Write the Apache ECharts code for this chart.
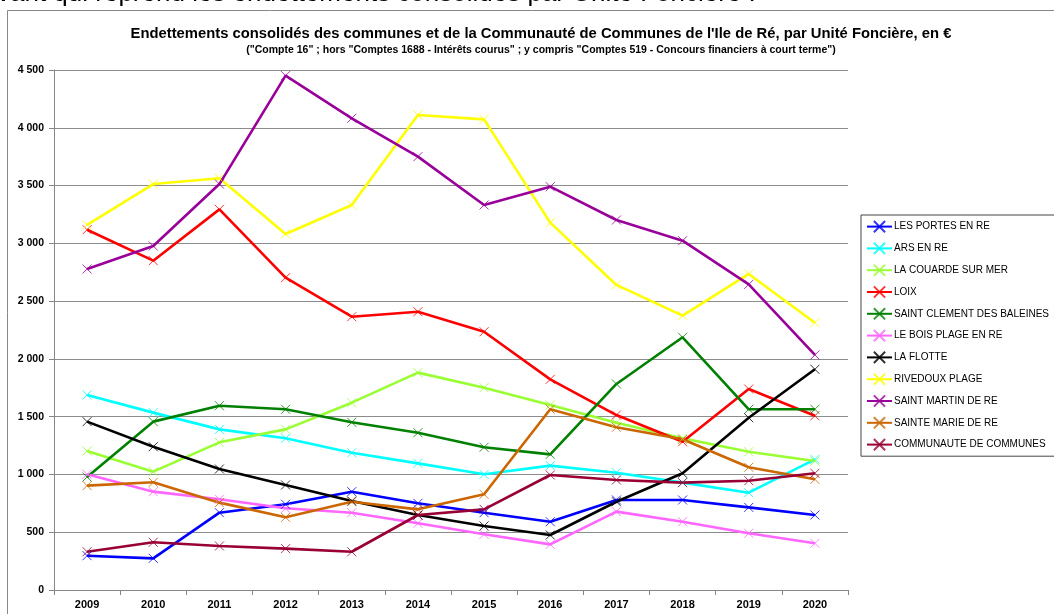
<!DOCTYPE html>
<html>
<head>
<meta charset="utf-8">
<script src="https://cdn.jsdelivr.net/npm/echarts@6/dist/echarts.min.js"></script>
<style>
html,body{margin:0;padding:0;background:#fff;}
#chart{width:1054px;height:614px;}
</style>
</head>
<body>
<div id="chart"></div>
<script>
var years = ['2009','2010','2011','2012','2013','2014','2015','2016','2017','2018','2019','2020'];
var yTicks = [0, 500, 1000, 1500, 2000, 2500, 3000, 3500, 4000, 4500];

var lesPortesEnRe      = [297, 274, 669, 742, 851, 750, 669, 591, 779, 779, 715, 649];
var arsEnRe            = [1688, 1535, 1390, 1313, 1188, 1096, 1001, 1076, 1015, 929, 842, 1131];
var laCouardeSurMer    = [1203, 1024, 1278, 1390, 1621, 1881, 1751, 1601, 1448, 1313, 1197, 1116];
var loix               = [3118, 2850, 3294, 2703, 2365, 2408, 2235, 1823, 1514, 1283, 1739, 1508];
var saintClement       = [978, 1457, 1595, 1564, 1451, 1361, 1235, 1174, 1783, 2187, 1564, 1564];
var leBoisPlageEnRe    = [1001, 851, 785, 707, 669, 577, 482, 395, 678, 591, 491, 404];
var laFlotte           = [1457, 1240, 1047, 909, 770, 649, 554, 476, 764, 1010, 1490, 1910];
var rivedouxPlage      = [3159, 3513, 3563, 3081, 3332, 4111, 4073, 3179, 2640, 2374, 2735, 2313];
var saintMartinDeRe    = [2778, 2977, 3513, 4451, 4082, 3750, 3332, 3490, 3202, 3023, 2645, 2034];
var sainteMarieDeRe    = [903, 932, 756, 629, 764, 698, 828, 1564, 1408, 1304, 1062, 958];
var communauteCommunes = [331, 413, 381, 358, 331, 649, 698, 995, 952, 929, 946, 1010];

var seriesDefs = [
  ['LES PORTES EN RE', lesPortesEnRe, '#0000FF'],
  ['ARS EN RE', arsEnRe, '#00FFFF'],
  ['LA COUARDE SUR MER', laCouardeSurMer, '#99FF33'],
  ['LOIX', loix, '#FF0000'],
  ['SAINT CLEMENT DES BALEINES', saintClement, '#008000'],
  ['LE BOIS PLAGE EN RE', leBoisPlageEnRe, '#FF66FF'],
  ['LA FLOTTE', laFlotte, '#000000'],
  ['RIVEDOUX PLAGE', rivedouxPlage, '#FFFF00'],
  ['SAINT MARTIN DE RE', saintMartinDeRe, '#990099'],
  ['SAINTE MARIE DE RE', sainteMarieDeRe, '#CC6600'],
  ['COMMUNAUTE DE COMMUNES', communauteCommunes, '#990033']
];

var FONT = "'Liberation Sans',Arial,sans-serif";
var crossPath = 'path://M0,0L10,10M10,0L0,10';

function fmt(v){ return String(v).replace(/\B(?=(\d{3})+(?!\d))/g, ' '); }

var series = seriesDefs.map(function(d){
  return {
    name: d[0],
    type: 'line',
    data: d[1],
    symbol: crossPath,
    symbolSize: 9,
    showAllSymbol: true,
    lineStyle: {color: d[2], width: 2.6},
    itemStyle: {color: d[2], borderColor: d[2], borderWidth: 1, opacity: 0.8},
    emphasis: {disabled: true},
    animation: false,
    z: 3
  };
});

var chart = echarts.init(document.getElementById('chart'), null, {renderer: 'canvas'});
chart.setOption({
  backgroundColor: '#ffffff',
  animation: false,
  title: {
    text: "Endettements consolidés des communes et de la Communauté de Communes de l'Ile de Ré, par Unité Foncière, en €",
    subtext: "(\"Compte 16\" ; hors \"Comptes 1688 - Intérêts courus\" ; y compris \"Comptes 519 - Concours financiers à court terme\")",
    left: 536,
    textAlign: 'center',
    top: 21,
    itemGap: 4,
    textStyle: {fontFamily: FONT, fontSize: 14.8, fontWeight: 'bold', color: '#000'},
    subtextStyle: {fontFamily: FONT, fontSize: 10.5, fontWeight: 'bold', color: '#000'}
  },
  graphic: [
    {type: 'rect', shape: {x: 7.5, y: 10.5, width: 1060, height: 620}, style: {fill: null, stroke: '#888888', lineWidth: 1}, silent: true, z: -1},
    {type: 'text', left: -3, top: -19, style: {text: 'vant qui reprend les endettements consolidés par Unité Foncière :', font: "26px 'Liberation Sans',Arial,sans-serif", fill: '#000'}, silent: true, z: -2}
  ],
  grid: {left: 54, right: 206, top: 70, bottom: 24, containLabel: false},
  legend: {
    orient: 'vertical',
    left: 861,
    top: 215,
    padding: [5, 12, 5, 5],
    itemWidth: 25,
    itemHeight: 14,
    itemGap: 8.6,
    borderColor: '#444',
    borderWidth: 1,
    textStyle: {fontFamily: FONT, fontSize: 10, color: '#000', padding: [0,0,0,-3]},
    data: seriesDefs.map(function(d){ return d[0]; })
  },
  xAxis: {
    type: 'category',
    data: years,
    boundaryGap: true,
    axisLine: {lineStyle: {color: '#868686', width: 1}},
    axisTick: {show: true, length: 5, inside: false, lineStyle: {color: '#868686'}},
    axisLabel: {fontFamily: FONT, fontSize: 11, fontWeight: 'bold', color: '#000', margin: 9},
    splitLine: {show: false}
  },
  yAxis: {
    type: 'value',
    min: yTicks[0],
    max: yTicks[yTicks.length - 1],
    interval: yTicks[1] - yTicks[0],
    axisLine: {show: true, lineStyle: {color: '#868686', width: 1}},
    axisTick: {show: true, length: 5, lineStyle: {color: '#868686'}},
    axisLabel: {fontFamily: FONT, fontSize: 10.5, fontWeight: 'bold', color: '#000', margin: 10, formatter: fmt},
    splitLine: {show: true, lineStyle: {color: '#8c8c8c', width: 1}}
  },
  series: series
});
</script>
</body>
</html>
